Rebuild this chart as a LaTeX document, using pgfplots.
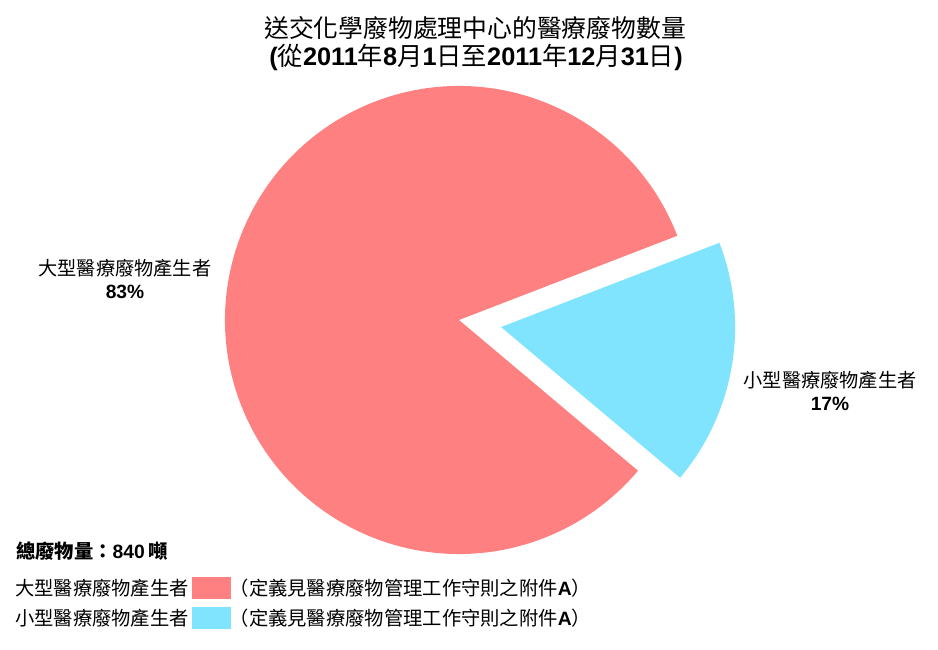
\documentclass[border=0pt]{standalone}
\usepackage{pgfplots}
\pgfplotsset{compat=1.18}
\usepackage{pgfplotstable}
\usepackage{fontspec}
\setmainfont{Liberation Sans}
\newfontfamily\cjk{Noto Sans CJK TC}
\newcommand{\C}[1]{{\cjk\mdseries #1}}
\newcommand{\CB}[1]{{\cjk\bfseries #1}}
\definecolor{bigred}{HTML}{FF8080}
\definecolor{smallcyan}{HTML}{80E4FF}

% share of total waste (%), total 840 t
\pgfplotstableread{
group share
big 83
small 17
}\wastedata
\pgfplotstablegetelem{0}{share}\of\wastedata \let\shareBig\pgfplotsretval
\pgfplotstablegetelem{1}{share}\of\wastedata \let\shareSmall\pgfplotsretval
\pgfmathsetmacro\startA{21.1}
\pgfmathsetmacro\endA{\startA+3.6*\shareBig}
\pgfmathsetmacro\stopS{\startA+360}
\pgfmathsetmacro\midS{\endA+1.8*\shareSmall}

\begin{document}
\begin{tikzpicture}
\begin{axis}[
  width=938pt, height=650pt, scale only axis,
  xmin=0, xmax=938, ymin=0, ymax=650,
  hide axis, clip=false]
  \path (axis cs:0,0) rectangle (axis cs:938,650);
  % pie
  \fill[bigred] (axis cs:459,330) -- ++(\startA:234pt)
     arc[start angle=\startA, end angle=\endA, radius=234pt] -- cycle;
  \fill[smallcyan] ([shift={(\midS:42.7pt)}]axis cs:459,330) -- ++(\endA:234pt)
     arc[start angle=\endA, end angle=\stopS, radius=234pt] -- cycle;
  % title
  \node[font=\fontsize{24.8}{28}\selectfont] at (axis cs:475,622)
     {\C{送交化學廢物處理中心的醫療廢物數量}};
  \node[font=\fontsize{25.3}{28}\selectfont\bfseries] at (axis cs:476,593)
     {(\C{從}2011\C{年}8\C{月}1\C{日至}2011\C{年}12\C{月}31\C{日})};
  % slice labels
  \node[font=\fontsize{19.2}{22}\selectfont] at (axis cs:125,382) {\C{大型醫療廢物產生者}};
  \node[font=\fontsize{19.2}{22}\selectfont\bfseries] at (axis cs:125,358) {83\%};
  \node[font=\fontsize{19.2}{22}\selectfont] at (axis cs:830,270) {\C{小型醫療廢物產生者}};
  \node[font=\fontsize{19.2}{22}\selectfont\bfseries] at (axis cs:830,246) {17\%};
  % total and key
  \node[anchor=west, inner sep=0pt, font=\fontsize{19.3}{22}\selectfont\bfseries] at (axis cs:16,99)
     {\CB{總廢物量：}840\,\CB{噸}};
  \node[anchor=west, inner sep=0pt, font=\fontsize{19.3}{22}\selectfont] at (axis cs:15,62)
     {\C{大型醫療廢物產生者}};
  \fill[bigred] (axis cs:192,73) rectangle (axis cs:231,51);
  \node[anchor=west, inner sep=0pt, font=\fontsize{19.3}{22}\selectfont] at (axis cs:229.5,62)
     {\C{（定義見醫療廢物管理工作守則之附件}\textbf{A}\C{）}};
  \node[anchor=west, inner sep=0pt, font=\fontsize{19.3}{22}\selectfont] at (axis cs:15,32)
     {\C{小型醫療廢物產生者}};
  \fill[smallcyan] (axis cs:192,43) rectangle (axis cs:231,21);
  \node[anchor=west, inner sep=0pt, font=\fontsize{19.3}{22}\selectfont] at (axis cs:229.5,32)
     {\C{（定義見醫療廢物管理工作守則之附件}\textbf{A}\C{）}};
\end{axis}
\end{tikzpicture}
\end{document}
